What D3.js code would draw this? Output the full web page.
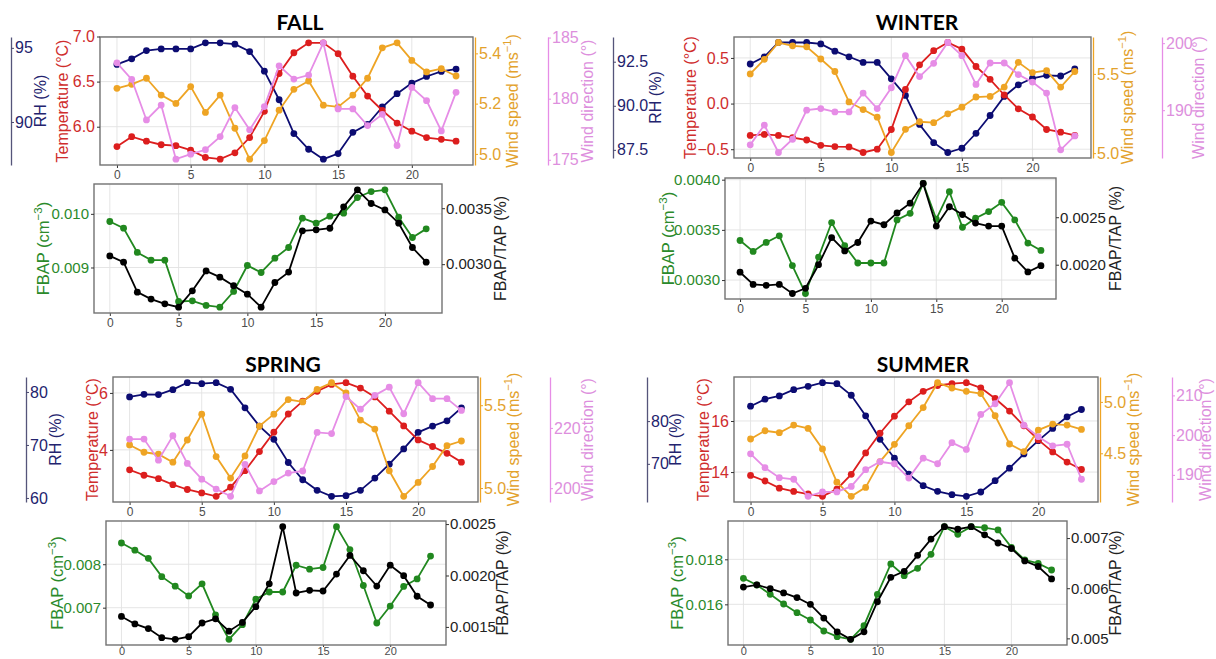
<!DOCTYPE html>
<html>
<head>
<meta charset="utf-8">
<script src="https://cdn.jsdelivr.net/npm/d3@7"></script>
<style>
  body { margin: 0; background: #fff; }
  svg { display: block; }
</style>
</head>
<body>
<div id="chart"></div>
<script>
const FONT = "'Liberation Sans', Arial, sans-serif";

// hour of day
const hours = d3.range(24);
const hourTicks = [0, 5, 10, 15, 20];

// FALL
const fallRH = [93.88, 94.26, 94.82, 94.93, 94.93, 94.93, 95.34, 95.34, 95.25, 94.75, 93.43, 91.50, 89.22, 88.16, 87.49, 87.87, 89.30, 89.84, 91.01, 91.91, 92.62, 93.07, 93.41, 93.57];
const fallTemp = [5.78, 5.89, 5.84, 5.80, 5.79, 5.74, 5.66, 5.64, 5.71, 5.88, 6.17, 6.59, 6.82, 6.93, 6.93, 6.81, 6.56, 6.34, 6.18, 6.04, 5.95, 5.88, 5.86, 5.84];
const fallWS = [5.261, 5.277, 5.301, 5.234, 5.201, 5.268, 5.165, 5.234, 5.102, 4.979, 5.053, 5.174, 5.257, 5.290, 5.194, 5.187, 5.234, 5.301, 5.422, 5.442, 5.372, 5.326, 5.339, 5.310];
const fallWD = [182.93, 181.58, 178.26, 179.48, 175.05, 175.46, 175.82, 176.90, 179.27, 177.45, 179.35, 182.69, 181.60, 181.93, 184.57, 179.16, 179.16, 177.80, 178.72, 176.17, 180.92, 179.84, 177.36, 180.52];
const fallFBAP = [0.009857, 0.009733, 0.009280, 0.009137, 0.009137, 0.008366, 0.008379, 0.008292, 0.008261, 0.008553, 0.009037, 0.008907, 0.009174, 0.009373, 0.009919, 0.009826, 0.009957, 0.010012, 0.010304, 0.010416, 0.010447, 0.009938, 0.009559, 0.009720];
const fallRatio = [0.003074, 0.003018, 0.002750, 0.002688, 0.002646, 0.002616, 0.002762, 0.002940, 0.002884, 0.002807, 0.002732, 0.002616, 0.002836, 0.002929, 0.003298, 0.003307, 0.003321, 0.003512, 0.003664, 0.003542, 0.003485, 0.003366, 0.003149, 0.003018];

// WINTER
const winterRH = [92.37, 92.78, 93.59, 93.59, 93.59, 93.51, 93.10, 92.78, 92.46, 92.46, 91.53, 90.59, 88.94, 87.91, 87.35, 87.59, 88.44, 89.45, 90.53, 91.19, 91.56, 91.73, 91.69, 92.09];
const winterTemp = [-0.349, -0.338, -0.349, -0.374, -0.399, -0.457, -0.471, -0.475, -0.536, -0.500, -0.284, 0.155, 0.424, 0.579, 0.669, 0.597, 0.406, 0.266, 0.094, -0.058, -0.147, -0.284, -0.313, -0.349];
const winterWS = [5.500, 5.592, 5.698, 5.677, 5.671, 5.594, 5.515, 5.323, 5.275, 5.227, 5.004, 5.150, 5.198, 5.192, 5.248, 5.290, 5.354, 5.358, 5.417, 5.573, 5.508, 5.521, 5.417, 5.515];
const winterWD = [184.83, 187.78, 183.69, 185.67, 190.00, 190.25, 189.75, 189.75, 192.56, 190.25, 193.35, 198.13, 195.02, 197.00, 200.10, 198.13, 193.84, 197.04, 197.04, 195.32, 194.19, 192.56, 184.09, 186.16];
const winterFBAP = [0.003394, 0.003285, 0.003375, 0.003441, 0.003144, 0.002866, 0.003229, 0.003573, 0.003342, 0.003170, 0.003170, 0.003170, 0.003599, 0.003665, 0.003962, 0.003606, 0.003880, 0.003526, 0.003616, 0.003682, 0.003774, 0.003599, 0.003368, 0.003295];
const winterRatio = [0.001921, 0.001793, 0.001783, 0.001793, 0.001697, 0.001752, 0.002000, 0.002286, 0.002145, 0.002234, 0.002459, 0.002421, 0.002545, 0.002648, 0.002855, 0.002407, 0.002610, 0.002528, 0.002438, 0.002407, 0.002407, 0.002069, 0.001924, 0.001990];

// SPRING
const springRH = [79.06, 79.56, 79.50, 80.44, 81.75, 81.56, 81.75, 80.50, 77.00, 73.56, 71.06, 66.69, 63.44, 61.44, 60.31, 60.44, 61.44, 63.75, 66.38, 69.25, 72.38, 73.56, 74.56, 77.00];
const springTemp = [3.30, 3.11, 2.99, 2.78, 2.61, 2.49, 2.37, 2.69, 3.27, 3.94, 4.62, 5.26, 5.71, 6.06, 6.30, 6.36, 6.17, 5.86, 5.36, 4.84, 4.35, 4.12, 3.88, 3.57];
const springWS = [5.260, 5.216, 5.204, 5.156, 5.290, 5.446, 5.190, 5.060, 5.194, 5.374, 5.446, 5.534, 5.520, 5.596, 5.636, 5.574, 5.410, 5.356, 5.104, 4.950, 5.034, 5.130, 5.256, 5.284];
const springWD = [216.3, 216.3, 209.3, 217.4, 208.2, 203.0, 199.7, 197.3, 207.9, 199.1, 202.2, 205.0, 205.7, 218.5, 218.1, 230.4, 226.2, 230.8, 233.5, 224.7, 235.0, 229.7, 229.7, 225.8];
const springFBAP = [0.008489, 0.008323, 0.008135, 0.007714, 0.007496, 0.007271, 0.007549, 0.006835, 0.006271, 0.006609, 0.007195, 0.007361, 0.007361, 0.007977, 0.007887, 0.007925, 0.008865, 0.008338, 0.007511, 0.006647, 0.007038, 0.007489, 0.007662, 0.008188];
const springRatio = [0.001602, 0.001529, 0.001484, 0.001395, 0.001379, 0.001405, 0.001538, 0.001579, 0.001459, 0.001544, 0.001697, 0.001919, 0.002475, 0.001830, 0.001856, 0.001849, 0.002014, 0.002195, 0.002046, 0.001897, 0.002100, 0.001998, 0.001798, 0.001713];

// SUMMER
const summerRH = [83.49, 85.12, 85.89, 87.36, 88.14, 88.99, 88.76, 86.05, 81.24, 75.74, 71.32, 67.60, 64.88, 63.57, 62.79, 62.40, 63.41, 66.05, 68.99, 72.33, 75.43, 78.29, 81.01, 82.71];
const summerTemp = [13.87, 13.65, 13.37, 13.24, 13.14, 13.05, 13.33, 13.91, 14.75, 15.52, 16.19, 16.75, 17.16, 17.39, 17.46, 17.50, 17.30, 16.88, 16.39, 15.81, 15.26, 14.79, 14.39, 14.10];
const summerWS = [4.639, 4.719, 4.700, 4.774, 4.742, 4.542, 4.219, 4.081, 4.168, 4.419, 4.587, 4.768, 4.945, 5.187, 5.135, 5.103, 5.081, 4.865, 4.590, 4.516, 4.726, 4.784, 4.774, 4.732];
const summerWD = [195.3, 191.8, 189.3, 188.9, 184.6, 185.7, 185.7, 187.1, 191.3, 193.3, 192.8, 189.2, 194.2, 192.8, 198.1, 196.4, 205.2, 207.9, 213.2, 202.5, 199.6, 197.3, 197.7, 188.9];
const summerFBAP = [0.017156, 0.016859, 0.016444, 0.016015, 0.015630, 0.015304, 0.014815, 0.014563, 0.014444, 0.015052, 0.016444, 0.017793, 0.017274, 0.017600, 0.018222, 0.019452, 0.019111, 0.019452, 0.019407, 0.019304, 0.018533, 0.017970, 0.017822, 0.017526];
const summerRatio = [0.006023, 0.006068, 0.005990, 0.005906, 0.005814, 0.005678, 0.005404, 0.005130, 0.004980, 0.005130, 0.005730, 0.006218, 0.006336, 0.006655, 0.006980, 0.007228, 0.007176, 0.007228, 0.007065, 0.006902, 0.006792, 0.006544, 0.006433, 0.006186];

// axis tick values
const fallRHTicks = [90, 95], fallTempTicks = [6.0, 6.5, 7.0], fallWSTicks = [5.0, 5.2, 5.4], fallWDTicks = [175, 180, 185];
const fallFBAPTicks = [0.009, 0.010], fallRatioTicks = [0.0030, 0.0035];
const winterRHTicks = [87.5, 90.0, 92.5], winterTempTicks = [-0.5, 0.0, 0.5], winterWSTicks = [5.0, 5.5], winterWDTicks = [190, 200];
const winterFBAPTicks = [0.0030, 0.0035, 0.0040], winterRatioTicks = [0.0020, 0.0025];
const springRHTicks = [60, 70, 80], springTempTicks = [4, 6], springWSTicks = [5.0, 5.5], springWDTicks = [200, 220];
const springFBAPTicks = [0.007, 0.008], springRatioTicks = [0.0015, 0.0020, 0.0025];
const summerRHTicks = [70, 80], summerTempTicks = [14, 16], summerWSTicks = [4.5, 5.0], summerWDTicks = [190, 200, 210];
const summerFBAPTicks = [0.016, 0.018], summerRatioTicks = [0.005, 0.006, 0.007];

const colors = {
  rh: "#0c0c72", temp: "#dc1e1e", ws: "#eea424", wd: "#e68de6",
  fbap: "#21881f", ratio: "#000000"
};
const labelColors = {
  rh: "#23236e", temp: "#cf2d2d", ws: "#e3a22c", wd: "#dd8fdd",
  fbap: "#2b8a2b", ratio: "#222222"
};

const seasons = [
  {
    name: "FALL", titleX: 300, titleY: 30,
    rh: fallRH, temp: fallTemp, ws: fallWS, wd: fallWD, fbap: fallFBAP, ratio: fallRatio,
    rhTicks: fallRHTicks, tempTicks: fallTempTicks, wsTicks: fallWSTicks, wdTicks: fallWDTicks,
    fbapTicks: fallFBAPTicks, ratioTicks: fallRatioTicks,
    fmt: { rh: "d", temp: ".1f", ws: ".1f", wd: "d", fbap: ".3f", ratio: ".4f" },
    top: { l: 100, r: 473, t: 37, b: 165 },
    rhX: 11, rhLab: 40, tempLab: 62, wsX: 475, wsLab: 512, wdX: 548, wdLab: 587,
    bot: { l: 94, r: 442, t: 184, b: 313 }, fbapLab: 43, ratioLab: 500, tight: false
  },
  {
    name: "WINTER", titleX: 917, titleY: 30,
    rh: winterRH, temp: winterTemp, ws: winterWS, wd: winterWD, fbap: winterFBAP, ratio: winterRatio,
    rhTicks: winterRHTicks, tempTicks: winterTempTicks, wsTicks: winterWSTicks, wdTicks: winterWDTicks,
    fbapTicks: winterFBAPTicks, ratioTicks: winterRatioTicks,
    fmt: { rh: ".1f", temp: ".1f", ws: ".1f", wd: "d", fbap: ".4f", ratio: ".4f" },
    top: { l: 734, r: 1091, t: 37, b: 158 },
    rhX: 613, rhLab: 655, tempLab: 690, wsX: 1093, wsLab: 1127, wdX: 1162, wdLab: 1198,
    bot: { l: 725, r: 1056, t: 178, b: 299 }, fbapLab: 668, ratioLab: 1115, tight: false
  },
  {
    name: "SPRING", titleX: 283, titleY: 372,
    rh: springRH, temp: springTemp, ws: springWS, wd: springWD, fbap: springFBAP, ratio: springRatio,
    rhTicks: springRHTicks, tempTicks: springTempTicks, wsTicks: springWSTicks, wdTicks: springWDTicks,
    fbapTicks: springFBAPTicks, ratioTicks: springRatioTicks,
    fmt: { rh: "d", temp: "d", ws: ".1f", wd: "d", fbap: ".3f", ratio: ".4f" },
    top: { l: 113, r: 478, t: 377, b: 502 },
    rhX: 26, rhLab: 55, tempLab: 92, wsX: 480, wsLab: 513, wdX: 550, wdLab: 587,
    bot: { l: 106, r: 446, t: 521, b: 645 }, fbapLab: 57, ratioLab: 502, tight: true
  },
  {
    name: "SUMMER", titleX: 923, titleY: 372,
    rh: summerRH, temp: summerTemp, ws: summerWS, wd: summerWD, fbap: summerFBAP, ratio: summerRatio,
    rhTicks: summerRHTicks, tempTicks: summerTempTicks, wsTicks: summerWSTicks, wdTicks: summerWDTicks,
    fbapTicks: summerFBAPTicks, ratioTicks: summerRatioTicks,
    fmt: { rh: "d", temp: "d", ws: ".1f", wd: "d", fbap: ".3f", ratio: ".3f" },
    top: { l: 734, r: 1098, t: 377, b: 502 },
    rhX: 647, rhLab: 675, tempLab: 703, wsX: 1100, wsLab: 1133, wdX: 1172, wdLab: 1205,
    bot: { l: 728, r: 1067, t: 521, b: 645 }, fbapLab: 677, ratioLab: 1115, tight: true
  }
];

const svg = d3.select("#chart").append("svg")
  .attr("width", 1216)
  .attr("height", 659)
  .style("font-family", FONT);

// ggplot-like 5% expansion around the data
function padded(vals) {
  const [a, b] = d3.extent(vals);
  const p = (b - a) * 0.05;
  return [a - p, b + p];
}

function styleAxis(g, textColor, lineColor, size, domainColor) {
  g.attr("font-family", null).attr("font-size", null);
  g.selectAll(".tick text")
    .attr("fill", textColor)
    .style("font-size", size + "px")
    .style("font-family", FONT);
  g.selectAll(".tick line").attr("stroke", lineColor).attr("stroke-width", 1);
  g.select(".domain")
    .attr("stroke", domainColor || "none")
    .attr("stroke-width", 1.3);
}

// rotated axis title, reading bottom to top; parts may hold a superscript
function vLabel(x, cy, parts, color, size) {
  const t = svg.append("text")
    .attr("transform", `translate(${x + size * 0.35},${cy}) rotate(-90)`)
    .attr("text-anchor", "middle")
    .attr("fill", color)
    .style("font-size", size + "px");
  let up = false;
  parts.forEach(p => {
    const s = t.append("tspan").text(p.t);
    if (p.sup) {
      s.attr("dy", -size * 0.4).style("font-size", (size * 0.7) + "px");
      up = true;
    } else if (up) {
      s.attr("dy", size * 0.4);
      up = false;
    }
  });
}

function drawSeries(g, x, y, vals, color) {
  g.append("path")
    .datum(vals)
    .attr("fill", "none")
    .attr("stroke", color)
    .attr("stroke-width", 1.8)
    .attr("d", d3.line().x((d, i) => x(hours[i])).y(d => y(d)));
  g.selectAll(null)
    .data(vals)
    .enter()
    .append("circle")
    .attr("cx", (d, i) => x(hours[i]))
    .attr("cy", d => y(d))
    .attr("r", 3.4)
    .attr("fill", color);
}

function drawPanel(box, gridTicks, yGrid, tight) {
  const x = d3.scaleLinear().domain([-1.15, 24.15]).range([box.l, box.r]);
  svg.append("rect")
    .attr("x", box.l).attr("y", box.t)
    .attr("width", box.r - box.l).attr("height", box.b - box.t)
    .attr("fill", "#fff");
  svg.selectAll(null).data(hourTicks).enter().append("line")
    .attr("x1", d => x(d)).attr("x2", d => x(d))
    .attr("y1", box.t).attr("y2", box.b)
    .attr("stroke", "#e2e2e2").attr("stroke-width", 0.9);
  svg.selectAll(null).data(gridTicks).enter().append("line")
    .attr("x1", box.l).attr("x2", box.r)
    .attr("y1", d => yGrid(d)).attr("y2", d => yGrid(d))
    .attr("stroke", "#e2e2e2").attr("stroke-width", 0.9);

  const xg = svg.append("g")
    .attr("transform", `translate(0,${box.b})`)
    .call(d3.axisBottom(x).tickValues(hourTicks)
      .tickSize(tight ? 2 : 3).tickPadding(tight ? 0 : 2).tickSizeOuter(0));
  styleAxis(xg, "#4d4d4d", "#333", tight ? 11 : 12, null);
  return x;
}

function border(box) {
  svg.append("rect")
    .attr("x", box.l).attr("y", box.t)
    .attr("width", box.r - box.l).attr("height", box.b - box.t)
    .attr("fill", "none")
    .attr("stroke", "#727272")
    .attr("stroke-width", 1.4);
}

function drawSeason(s) {
  // upper plot: meteorology
  const tp = s.top;
  const yRH = d3.scaleLinear().domain(padded(s.rh)).range([tp.b, tp.t]);
  const yT = d3.scaleLinear().domain(padded(s.temp)).range([tp.b, tp.t]);
  const yWS = d3.scaleLinear().domain(padded(s.ws)).range([tp.b, tp.t]);
  const yWD = d3.scaleLinear().domain(padded(s.wd)).range([tp.b, tp.t]);

  const x1 = drawPanel(tp, s.tempTicks, yT, false);
  const g1 = svg.append("g");
  drawSeries(g1, x1, yRH, s.rh, colors.rh);
  drawSeries(g1, x1, yT, s.temp, colors.temp);
  drawSeries(g1, x1, yWS, s.ws, colors.ws);
  drawSeries(g1, x1, yWD, s.wd, colors.wd);
  border(tp);

  const tg = svg.append("g").attr("transform", `translate(${tp.l},0)`)
    .call(d3.axisLeft(yT).tickValues(s.tempTicks).tickFormat(d3.format(s.fmt.temp))
      .tickSize(3).tickPadding(2).tickSizeOuter(0));
  styleAxis(tg, labelColors.temp, "#333", 16, null);

  const rg = svg.append("g").attr("transform", `translate(${s.rhX},0)`)
    .call(d3.axisRight(yRH).tickValues(s.rhTicks).tickFormat(d3.format(s.fmt.rh))
      .tickSize(3).tickPadding(1).tickSizeOuter(0));
  styleAxis(rg, labelColors.rh, "#4a4a70", 16, "#55557a");

  const wg = svg.append("g").attr("transform", `translate(${s.wsX},0)`)
    .call(d3.axisRight(yWS).tickValues(s.wsTicks).tickFormat(d3.format(s.fmt.ws))
      .tickSize(3).tickPadding(1).tickSizeOuter(0));
  styleAxis(wg, labelColors.ws, colors.ws, 16, colors.ws);

  const dg = svg.append("g").attr("transform", `translate(${s.wdX},0)`)
    .call(d3.axisRight(yWD).tickValues(s.wdTicks).tickFormat(d3.format(s.fmt.wd))
      .tickSize(3).tickPadding(1).tickSizeOuter(0));
  styleAxis(dg, labelColors.wd, colors.wd, 16, colors.wd);

  const cy1 = (tp.t + tp.b) / 2;
  vLabel(s.rhLab, cy1, [{ t: "RH (%)" }], labelColors.rh, 16);
  vLabel(s.tempLab, cy1, [{ t: "Temperature (°C)" }], labelColors.temp, 16);
  vLabel(s.wsLab, cy1, [{ t: "Wind speed (ms" }, { t: "−1", sup: true }, { t: ")" }], labelColors.ws, 16);
  vLabel(s.wdLab, cy1, [{ t: "Wind direction (°)" }], labelColors.wd, 16);

  svg.append("text")
    .attr("x", s.titleX).attr("y", s.titleY)
    .attr("text-anchor", "middle")
    .style("font-family", "Lato, 'Open Sans', sans-serif")
    .style("font-weight", "bold")
    .style("font-size", "21px")
    .attr("fill", "#000")
    .text(s.name);

  // lower plot: FBAP and FBAP/TAP
  const bp = s.bot;
  const yF = d3.scaleLinear().domain(padded(s.fbap)).range([bp.b, bp.t]);
  const yR = d3.scaleLinear().domain(padded(s.ratio)).range([bp.b, bp.t]);
  const x2 = drawPanel(bp, s.fbapTicks, yF, s.tight);
  const g2 = svg.append("g");
  drawSeries(g2, x2, yF, s.fbap, colors.fbap);
  drawSeries(g2, x2, yR, s.ratio, colors.ratio);
  border(bp);

  const fg = svg.append("g").attr("transform", `translate(${bp.l},0)`)
    .call(d3.axisLeft(yF).tickValues(s.fbapTicks).tickFormat(d3.format(s.fmt.fbap))
      .tickSize(3).tickPadding(2).tickSizeOuter(0));
  styleAxis(fg, labelColors.fbap, "#333", 15, null);

  const ag = svg.append("g").attr("transform", `translate(${bp.r},0)`)
    .call(d3.axisRight(yR).tickValues(s.ratioTicks).tickFormat(d3.format(s.fmt.ratio))
      .tickSize(3).tickPadding(1).tickSizeOuter(0));
  styleAxis(ag, labelColors.ratio, "#333", 15, null);

  const cy2 = (bp.t + bp.b) / 2;
  vLabel(s.fbapLab, cy2, [{ t: "FBAP (cm" }, { t: "−3", sup: true }, { t: ")" }], labelColors.fbap, 16.5);
  vLabel(s.ratioLab, cy2, [{ t: "FBAP/TAP (%)" }], labelColors.ratio, 16);
}

seasons.forEach(drawSeason);
</script>
</body>
</html>
